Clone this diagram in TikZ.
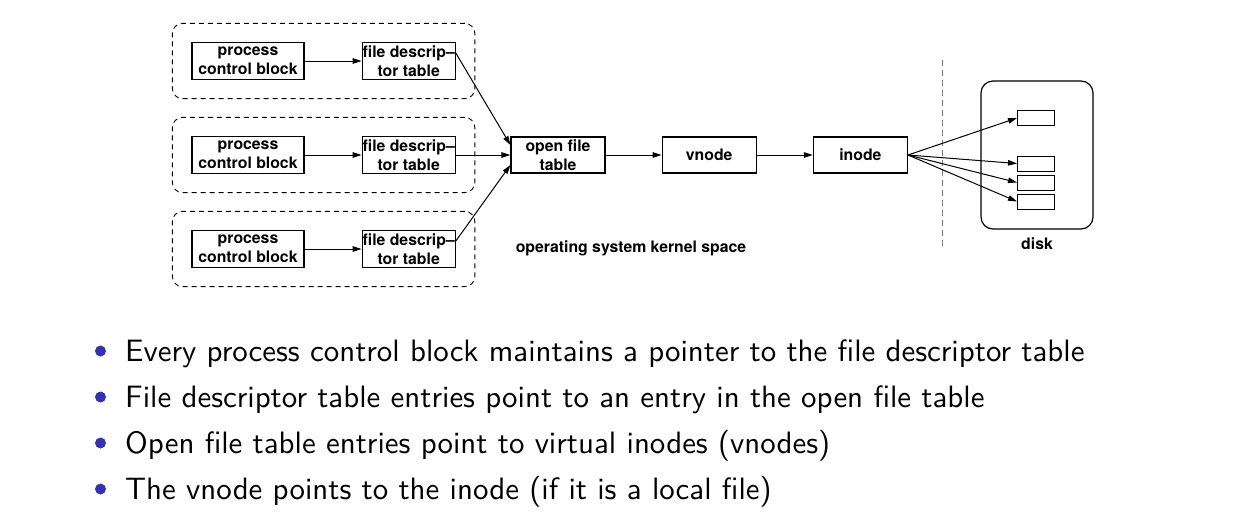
\documentclass[tikz,border=0pt]{standalone}
\usepackage{fontspec}
\newfontfamily\heros{TeX Gyre Heros}
\newfontfamily\lmsansten{lmsans10-regular.otf}
\usetikzlibrary{arrows.meta, positioning, fit}
\definecolor{bulletblue}{rgb}{0.2,0.2,0.7}
\definecolor{sepgray}{HTML}{7A7A7A}

\begin{document}
\begin{tikzpicture}[
  x=1pt, y=-1pt,
  font=\heros\bfseries\fontsize{15.8}{19}\selectfont,
  node distance=57pt,
  box/.style   ={draw, line width=1.2pt, inner sep=0pt, align=center,
                 minimum height=37pt},
  pcb/.style   ={box, minimum width=112pt},
  fdt/.style   ={box, minimum width=93pt},
  kern/.style  ={box, minimum width=94pt, minimum height=36pt},
  blk/.style   ={draw, line width=1pt, minimum width=37pt,
                 minimum height=15pt, inner sep=0pt},
  grp/.style   ={draw, line width=0.9pt, rounded corners=10pt,
                 dash pattern=on 5pt off 4pt, inner xsep=19pt, inner ysep=18.5pt},
  flow/.style  ={-{Triangle[length=9pt, width=5.5pt]}, line width=1pt},
  itemtxt/.style={anchor=base west, inner sep=0pt,
                 font=\lmsansten\fontsize{30.9}{36}\selectfont},
  dot/.style   ={circle, fill=bulletblue, inner sep=0pt, minimum size=11pt},
]
\useasboundingbox (0,0) rectangle (1250,520);

\node[pcb] (pcb1) at (248,61)  {process\\control block};
\node[fdt, right=of pcb1] (fdt1) {file descrip\textendash\\tor table};
\node[pcb] (pcb2) at (248,155) {process\\control block};
\node[fdt, right=of pcb2] (fdt2) {file descrip\textendash\\tor table};
\node[pcb] (pcb3) at (248,249) {process\\control block};
\node[fdt, right=of pcb3] (fdt3) {file descrip\textendash\\tor table};

\node[grp, fit=(pcb1)(fdt1)] (grp1) {};
\node[grp, fit=(pcb2)(fdt2)] (grp2) {};
\node[grp, fit=(pcb3)(fdt3)] (grp3) {};

\node[kern] (oft) at (558,155) {open file\\table};
\node[kern, right=56pt of oft]   (vnode) {vnode};
\node[kern, right=56pt of vnode] (inode) {inode};

\node (kspace) at (631,248) {operating system kernel space};

\draw[sepgray, line width=1pt, dash pattern=on 6pt off 4pt] (942,60) -- (942,246);

\node[draw, line width=1.2pt, rounded corners=12pt, minimum width=112pt,
      minimum height=148pt] (disk) at (1037,155) {};
\node[below=5pt of disk] (disklbl) {disk};
\node[blk] (blk1) at (1036,118) {};
\node[blk] (blk2) at (1036,163.5) {};
\node[blk, below=3pt of blk2] (blk3) {};
\node[blk, below=3pt of blk3] (blk4) {};

\draw[flow] (pcb1) -- (fdt1);
\draw[flow] (pcb2) -- (fdt2);
\draw[flow] (pcb3) -- (fdt3);
\draw[flow] ([yshift=8pt]fdt1.east) -- ([yshift=10pt]oft.west);
\draw[flow] (fdt2) -- (oft);
\draw[flow] ([yshift=8pt]fdt3.east) -- ([yshift=-10pt]oft.west);
\draw[flow] (oft) -- (vnode);
\draw[flow] (vnode) -- (inode);
\foreach \b in {1,...,4}
  \draw[flow] (inode.east) -- (blk\b.west);

\foreach \t [count=\i from 0] in {
    {Every process control block maintains a pointer to the file descriptor table},
    {File descriptor table entries point to an entry in the open file table},
    {Open file table entries point to virtual inodes (vnodes)},
    {The vnode points to the inode (if it is a local file)}} {
  \node[dot] (dot\i) at (100.5,{351+46*\i}) {};
  \node[itemtxt] (item\i) at (125,{361+46*\i}) {\t};
}

\end{tikzpicture}
\end{document}
